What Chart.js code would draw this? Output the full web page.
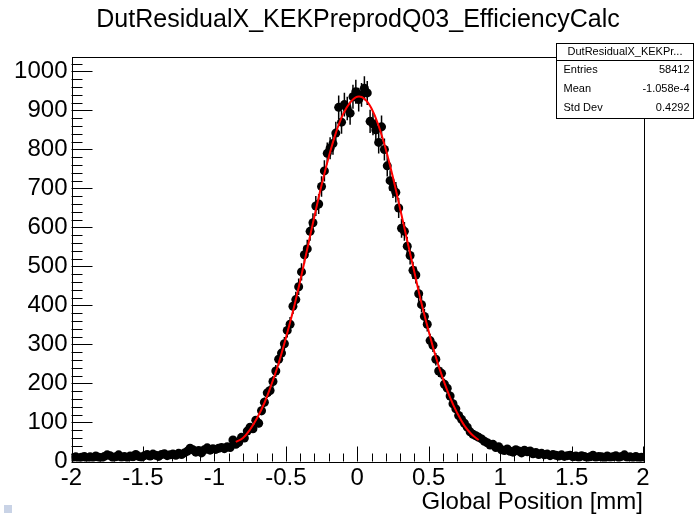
<!DOCTYPE html>
<html>
<head>
<meta charset="utf-8">
<script src="https://cdn.jsdelivr.net/npm/chart.js@4.4.1/dist/chart.umd.min.js"></script>
<style>
  html, body { margin: 0; padding: 0; background: #fff; }
  #wrap { position: relative; width: 695px; height: 516px; }
  #corner { position: absolute; left: 4px; top: 505px; width: 8px; height: 8px; background: #c9d3e6; }
</style>
</head>
<body>
<div id="wrap">
  <canvas id="chart" width="695" height="516"></canvas>
  <div id="corner"></div>
</div>
<script>
'use strict';

// histogram binning: 200 bins over [-2, 2]
var binLow = -2;
var binWidth = 0.02;

// bin contents, left to right
var counts = [
    10, 12, 9, 11, 13, 8, 12, 10, 14, 11, 9, 13, 17, 15, 10, 12, 17, 11, 13, 10, 14, 12, 18, 13, 11,
    15, 18, 14, 19, 16, 13, 18, 20, 15, 17, 19, 16, 21, 18, 22,
    26, 34, 30, 24, 28, 22, 30, 35, 29, 33,
    31, 34, 36, 33, 38, 36, 55,
    44, 49, 62, 60, 78, 88, 84, 106, 98, 130, 152, 176, 182, 205, 232, 262, 278, 302, 336, 352,
    398, 415, 448, 486, 530, 545, 590, 612, 655, 660, 705, 745, 790, 803, 815, 842, 908, 870,
    915, 905, 893, 935, 948,
    928, 940, 957, 945, 872, 866, 850, 818, 858, 800, 758, 720, 702, 690, 650, 598, 590, 552,
    528, 490, 478, 430, 402, 372, 352, 310, 298, 262, 232, 226, 198, 188, 168, 148, 135, 118,
    108, 98, 88, 76, 70, 66, 62, 58, 52, 48, 42, 44, 36, 38, 30,
    28, 32, 26, 24, 30, 27, 22, 29, 25,
    27, 20, 23, 18, 21, 17, 19, 15, 18, 16, 14, 17, 13, 15, 16,
    12, 14, 11, 15, 13, 10, 12, 16, 11, 13, 12, 9, 14, 11, 12, 15, 10, 13, 17, 11, 12, 10, 13, 9, 11
];

// gaussian fit curve
var fitX = [-0.85, -0.80, -0.75, -0.70, -0.65, -0.60, -0.55, -0.50, -0.45, -0.40, -0.35, -0.30,
    -0.25, -0.20, -0.15, -0.10, -0.05, 0.00, 0.05, 0.10, 0.15, 0.20, 0.25, 0.30, 0.35, 0.40,
    0.45, 0.50, 0.55, 0.60, 0.65, 0.70, 0.75, 0.80, 0.85];
var fitY = [50, 60, 82, 112, 150, 198, 252, 316, 385, 462, 545, 628,
    708, 780, 842, 890, 920, 935, 930, 905, 860, 800, 728, 648, 566, 485,
    405, 334, 268, 212, 164, 124, 92, 70, 55];

var xTicks = [-2, -1.5, -1, -0.5, 0, 0.5, 1, 1.5, 2];
var yTicks = [0, 100, 200, 300, 400, 500, 600, 700, 800, 900, 1000];

var histName = 'DutResidualX_KEKPreprodQ03_EfficiencyCalc';
var statTitle = 'DutResidualX_KEKPr...';
var statLabels = ['Entries', 'Mean', 'Std Dev'];
var statValues = ['58412', '-1.058e-4', '0.4292'];
var xTitle = 'Global Position [mm]';

var FONT = '"Liberation Sans", Arial, Helvetica, sans-serif';

function binCenter(i) {
    return binLow + binWidth * (i + 0.5);
}

var points = counts.map(function (c, i) {
    return { x: binCenter(i), y: c };
});
var fitPoints = fitX.map(function (x, i) {
    return { x: x, y: fitY[i] };
});

// vertical sqrt(N) error bars under the markers
var errorBars = {
    id: 'errorBars',
    beforeDatasetsDraw: function (chart) {
        var ctx = chart.ctx, xs = chart.scales.x, ys = chart.scales.y, a = chart.chartArea;
        ctx.save();
        ctx.beginPath();
        ctx.rect(a.left, a.top, a.right - a.left, a.bottom - a.top);
        ctx.clip();
        ctx.strokeStyle = '#000';
        ctx.lineWidth = 1.5;
        ctx.beginPath();
        counts.forEach(function (c, i) {
            var px = xs.getPixelForValue(binCenter(i));
            var e = Math.sqrt(c);
            ctx.moveTo(px, ys.getPixelForValue(c + e));
            ctx.lineTo(px, ys.getPixelForValue(Math.max(c - e, 0)));
        });
        ctx.stroke();
        ctx.restore();
    }
};

// ROOT style frame, inner ticks, title, stat box and axis title
var rootFrame = {
    id: 'rootFrame',
    afterDraw: function (chart) {
        var ctx = chart.ctx, xs = chart.scales.x, ys = chart.scales.y, a = chart.chartArea;
        var v, p;
        ctx.save();
        ctx.strokeStyle = '#000';
        ctx.lineWidth = 1;

        ctx.beginPath();
        for (v = -2; v <= 2.0001; v += 0.1) {
            p = Math.round(xs.getPixelForValue(v)) + 0.5;
            var major = Math.abs(v * 2 - Math.round(v * 2)) < 1e-6;
            ctx.moveTo(p, a.bottom);
            ctx.lineTo(p, a.bottom - (major ? 15 : 8));
        }
        for (v = 0; v <= 1030; v += 20) {
            p = Math.round(ys.getPixelForValue(v)) + 0.5;
            ctx.moveTo(a.left, p);
            ctx.lineTo(a.left + (v % 100 === 0 ? 21 : 11), p);
        }
        ctx.stroke();

        ctx.strokeRect(Math.round(a.left) + 0.5, Math.round(a.top) + 0.5,
            Math.round(a.right - a.left), Math.round(a.bottom - a.top));

        ctx.fillStyle = '#000';
        ctx.textBaseline = 'alphabetic';
        ctx.font = '25px ' + FONT;
        ctx.textAlign = 'center';
        ctx.fillText(histName, 358, 27);

        ctx.font = '24px ' + FONT;
        ctx.textAlign = 'right';
        ctx.fillText(xTitle, 643, 509);

        // stat box
        var bx = 556.5, by = 43.5, bw = 137, bh = 75;
        ctx.fillStyle = '#fff';
        ctx.fillRect(bx, by, bw, bh);
        ctx.strokeRect(bx, by, bw, bh);
        ctx.beginPath();
        ctx.moveTo(bx, 60.5);
        ctx.lineTo(bx + bw, 60.5);
        ctx.stroke();
        ctx.fillStyle = '#000';
        ctx.font = '11px ' + FONT;
        ctx.textBaseline = 'middle';
        ctx.textAlign = 'center';
        ctx.fillText(statTitle, bx + bw / 2, 52);
        statLabels.forEach(function (lab, i) {
            var ty = 70 + i * 19;
            ctx.textAlign = 'left';
            ctx.fillText(lab, bx + 7, ty);
            ctx.textAlign = 'right';
            ctx.fillText(statValues[i], bx + bw - 4, ty);
        });
        ctx.restore();
    }
};

var ctx = document.getElementById('chart').getContext('2d');

new Chart(ctx, {
    type: 'line',
    data: {
        datasets: [{
            label: 'fit',
            data: fitPoints,
            borderColor: '#ff0000',
            borderWidth: 2,
            pointRadius: 0,
            fill: false,
            tension: 0.4
        }, {
            label: 'hist',
            data: points,
            showLine: false,
            pointRadius: 4.5,
            pointBackgroundColor: '#000',
            pointBorderColor: '#000',
            pointBorderWidth: 0
        }]
    },
    options: {
        responsive: false,
        animation: false,
        devicePixelRatio: 1,
        layout: { padding: { top: 57, right: 52, left: 0, bottom: 0 } },
        plugins: {
            legend: { display: false },
            tooltip: { enabled: false },
            title: { display: false }
        },
        scales: {
            x: {
                type: 'linear',
                min: -2,
                max: 2,
                afterBuildTicks: function (s) {
                    s.ticks = xTicks.map(function (t) { return { value: t }; });
                },
                afterFit: function (s) { s.height = 54.5; },
                grid: { display: false, drawTicks: false, tickLength: 0 },
                border: { display: false },
                ticks: {
                    color: '#000',
                    font: { family: FONT, size: 24 },
                    padding: 2,
                    maxRotation: 0,
                    autoSkip: false,
                    callback: function (v) { return String(v); }
                }
            },
            y: {
                type: 'linear',
                min: 0,
                max: 1037,
                afterBuildTicks: function (s) {
                    s.ticks = yTicks.map(function (t) { return { value: t }; });
                },
                afterFit: function (s) { s.width = 71.5; },
                grid: { display: false, drawTicks: false, tickLength: 0 },
                border: { display: false },
                ticks: {
                    color: '#000',
                    font: { family: FONT, size: 24 },
                    padding: 4,
                    autoSkip: false,
                    callback: function (v) { return String(v); }
                }
            }
        }
    },
    plugins: [errorBars, rootFrame]
});
</script>
</body>
</html>
